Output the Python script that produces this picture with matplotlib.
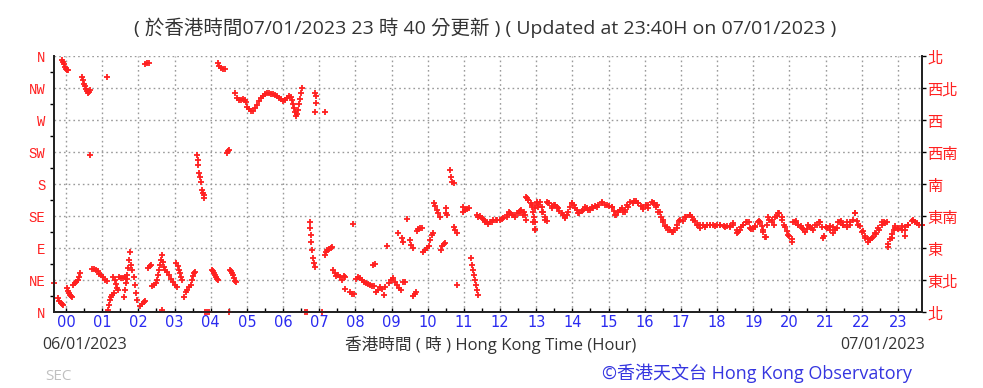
import matplotlib
matplotlib.use("Agg")
import matplotlib.pyplot as plt
from matplotlib.ticker import MultipleLocator

# ---------------- data (hour of 06/01/2023, wind direction in degrees) -------------
obs_night = [
    (-0.33, 41), (-0.22, 20), (-0.19, 15), (-0.14, 13), (-0.11, 11), (-0.08, 10),
    (-0.11, 354), (-0.08, 351), (-0.06, 349), (-0.03, 345), (0.0, 342), (0.03, 340), (0.06, 340),
    (0.03, 34), (0.06, 30), (0.08, 27), (0.11, 24), (0.14, 22), (0.17, 21),
    (0.19, 38), (0.25, 41), (0.28, 42), (0.33, 45), (0.36, 49), (0.39, 55),
    (0.44, 330), (0.47, 326), (0.5, 321), (0.53, 318), (0.55, 313), (0.58, 311), (0.61, 308),
    (0.64, 309), (0.66, 312), (0.66, 221),
    (0.72, 60), (0.77, 60), (0.83, 59), (0.88, 58),
    (0.91, 53), (0.97, 52), (1.02, 49), (1.08, 45), (1.13, 44), (1.13, 330),
    (1.16, 3), (1.19, 10), (1.22, 17), (1.24, 21), (1.27, 24), (1.33, 27),
    (1.3, 49), (1.35, 45), (1.38, 39), (1.41, 34), (1.44, 31),
    (1.47, 49), (1.52, 48), (1.58, 48), (1.63, 49), (1.69, 46),
    (1.6, 21), (1.63, 31), (1.66, 41), (1.69, 52), (1.71, 62), (1.74, 73), (1.77, 84),
    (1.8, 66), (1.82, 59), (1.88, 49), (1.91, 38), (1.94, 27), (1.96, 17),
    (2.05, 8), (2.1, 11), (2.16, 14), (2.18, 15),
    (2.18, 349), (2.24, 350), (2.29, 350),
    (2.27, 62), (2.32, 65), (2.35, 66), (2.38, 37), (2.43, 38), (2.49, 41),
    (2.52, 45), (2.54, 52), (2.57, 59), (2.6, 66), (2.63, 73), (2.65, 80), (2.65, 3),
    (2.68, 70), (2.71, 63), (2.74, 59), (2.79, 56), (2.85, 52), (2.9, 46), (2.96, 42),
    (3.01, 38), (3.07, 35),
    (3.04, 69), (3.1, 65), (3.12, 59), (3.15, 55), (3.18, 49), (3.21, 45),
    (3.26, 21), (3.32, 28), (3.35, 31), (3.4, 35), (3.46, 38), (3.48, 45), (3.51, 51),
    (3.54, 55), (3.57, 56),
    (3.62, 221), (3.65, 214), (3.65, 207), (3.68, 195), (3.7, 190), (3.73, 183),
    (3.76, 172), (3.79, 167), (3.82, 165), (3.82, 160),
    (3.84, 0), (3.9, 0), (3.95, 0),
    (4.04, 59), (4.06, 58), (4.09, 55), (4.12, 52), (4.15, 49), (4.17, 46), (4.2, 45),
    (4.2, 350), (4.23, 346), (4.29, 343), (4.34, 342), (4.4, 342),
    (4.45, 224), (4.48, 226), (4.5, 228), (4.51, 0),
    (4.53, 59), (4.56, 58), (4.59, 55), (4.62, 52), (4.64, 48), (4.67, 44), (4.7, 42),
]

obs_morning = [
    (4.67, 308), (4.73, 301), (4.78, 298), (4.84, 298), (4.89, 299), (4.95, 298), (4.98, 295),
    (5.0, 288), (5.06, 285), (5.11, 283), (5.17, 283), (5.23, 287), (5.28, 291), (5.34, 297),
    (5.39, 301), (5.45, 304), (5.5, 307), (5.56, 308), (5.61, 308), (5.67, 307), (5.72, 307),
    (5.78, 305), (5.84, 304), (5.89, 301), (5.95, 300), (6.0, 297), (6.05, 298), (6.11, 301),
    (6.17, 304), (6.22, 302), (6.25, 298), (6.28, 292), (6.3, 287), (6.33, 281), (6.36, 276),
    (6.39, 278), (6.41, 284), (6.44, 292), (6.47, 300), (6.5, 308), (6.53, 315),
    (6.88, 308), (6.91, 304), (6.91, 294), (6.88, 281), (7.16, 281),
    (6.61, 0), (6.66, 0),
    (6.75, 127), (6.75, 118), (6.77, 108), (6.77, 98), (6.8, 87), (6.83, 76), (6.86, 69), (6.88, 63),
    (7.08, 0),
    (7.16, 80), (7.19, 84), (7.22, 87), (7.27, 89), (7.33, 90), (7.35, 91),
    (7.38, 59), (7.44, 55), (7.47, 51), (7.52, 52), (7.58, 49), (7.63, 45), (7.69, 51), (7.71, 49),
    (7.71, 32), (7.93, 124), (7.85, 28), (7.91, 25), (7.96, 25),
    (8.02, 46), (8.07, 49), (8.13, 48), (8.18, 45), (8.24, 42), (8.29, 41), (8.35, 39), (8.4, 38),
    (8.46, 37), (8.52, 37), (8.49, 66), (8.54, 67),
    (8.57, 28), (8.63, 31), (8.68, 35), (8.74, 32), (8.79, 24), (8.82, 35), (8.87, 93),
    (8.93, 41), (8.99, 45), (9.04, 48), (9.1, 42), (9.15, 38),
    (9.21, 34), (9.26, 31), (9.32, 42), (9.37, 42),
    (9.18, 111), (9.29, 104), (9.32, 98), (9.43, 131),
    (9.51, 101), (9.54, 94), (9.59, 90), (9.59, 22), (9.65, 25), (9.68, 28),
    (9.7, 114), (9.73, 117), (9.79, 118), (9.84, 118),
    (9.87, 84), (9.93, 87), (9.98, 90), (10.04, 93),
    (10.06, 101), (10.12, 108), (10.15, 111),
    (10.17, 153), (10.2, 149), (10.26, 143), (10.29, 139), (10.34, 134),
    (10.37, 87), (10.4, 93), (10.45, 96), (10.48, 97),
    (10.51, 146), (10.51, 139), (10.53, 136),
    (10.62, 200), (10.64, 190), (10.67, 183), (10.73, 181),
    (10.73, 120), (10.75, 115), (10.81, 111), (10.81, 38),
    (10.98, 148), (10.98, 141), (11.03, 143), (11.09, 145), (11.14, 146),
    (11.2, 76), (11.22, 66), (11.25, 59), (11.28, 52), (11.31, 45), (11.33, 38), (11.36, 31), (11.39, 24),
]

obs_afternoon = [
    (11.39, 134), (11.5, 132), (11.58, 127), (11.67, 124), (11.78, 127), (11.92, 129),
    (12.06, 131), (12.19, 134), (12.28, 139), (12.36, 136), (12.47, 139), (12.55, 142),
    (12.64, 136), (12.72, 129), (12.75, 160), (12.77, 157), (12.88, 150), (12.97, 146),
    (12.91, 127), (12.97, 115), (13.02, 153), (13.05, 148), (13.16, 141), (13.24, 129),
    (13.33, 153), (13.44, 146), (13.52, 150), (13.6, 146), (13.71, 139), (13.8, 132),
    (13.88, 141), (13.99, 153), (14.07, 146), (14.16, 139), (14.29, 143), (14.41, 146),
    (14.49, 143), (14.57, 146), (14.68, 148), (14.82, 153), (14.96, 150), (15.1, 148),
    (15.18, 136), (15.26, 141), (15.37, 146), (15.46, 141), (15.54, 148), (15.68, 153),
    (15.82, 153), (15.95, 148), (16.09, 146), (16.23, 153), (16.34, 150), (16.42, 141),
    (16.51, 129), (16.62, 120), (16.7, 115), (16.78, 112), (16.89, 118),
    (16.98, 129), (17.11, 134), (17.25, 136), (17.34, 129), (17.45, 122), (17.53, 118),
    (17.67, 120), (17.81, 122), (17.94, 121), (18.08, 122), (18.22, 120), (18.36, 121),
    (18.44, 125), (18.55, 111), (18.64, 115), (18.72, 122), (18.83, 127), (18.91, 118),
    (19.05, 120), (19.19, 127), (19.27, 115), (19.36, 105), (19.41, 134), (19.52, 129),
    (19.6, 134), (19.69, 139), (19.8, 129), (19.88, 120), (19.96, 108), (20.07, 98),
    (20.16, 127), (20.24, 122), (20.35, 118), (20.43, 112), (20.52, 122), (20.63, 118),
    (20.71, 122), (20.85, 127), (20.93, 104), (21.04, 118), (21.12, 115), (21.21, 111),
    (21.32, 118), (21.4, 127), (21.48, 122), (21.59, 127), (21.68, 122), (21.82, 139),
    (21.9, 122), (22.01, 112), (22.09, 104), (22.17, 98), (22.29, 104), (22.37, 111),
    (22.45, 118), (22.56, 127), (22.65, 125), (22.73, 91), (22.84, 104), (22.92, 118),
    (23.0, 118), (23.12, 115), (23.2, 120), (23.28, 122), (23.42, 129), (23.53, 125),
    (23.67, 122),
]

# second, finer reading of the steady south-easterly afternoon trace
obs_afternoon_fine = [
    (11.37, 136), (11.45, 135), (11.52, 131), (11.59, 128), (11.65, 126), (11.72, 127),
    (11.8, 129), (11.89, 130), (12.0, 130), (12.09, 132), (12.18, 137), (12.26, 140),
    (12.33, 136), (12.41, 134), (12.51, 139), (12.57, 143), (12.65, 141), (12.69, 136),
    (12.72, 162), (12.78, 158), (12.85, 153), (12.88, 147), (12.92, 140), (12.94, 133),
    (12.96, 126), (12.98, 117), (13.01, 154), (13.06, 151), (13.11, 154), (13.15, 147),
    (13.2, 140), (13.24, 133), (13.31, 128), (13.29, 155), (13.36, 153), (13.43, 149),
    (13.49, 151), (13.57, 147), (13.64, 142), (13.73, 137), (13.8, 133), (13.86, 136),
    (13.94, 147), (13.98, 153), (14.05, 151), (14.12, 144), (14.19, 139), (14.26, 142),
    (14.35, 147), (14.44, 144), (14.53, 147), (14.63, 149), (14.72, 151), (14.81, 154),
    (14.9, 151), (15.0, 149), (15.09, 147), (15.15, 142), (15.21, 136), (15.27, 140),
    (15.32, 144), (15.39, 140), (15.46, 144), (15.52, 151), (15.59, 154), (15.69, 156),
    (15.76, 156), (15.82, 153), (15.89, 149), (15.96, 145), (16.04, 150), (16.1, 151),
    (16.19, 154), (16.26, 153), (16.31, 147), (16.38, 140), (16.44, 133), (16.5, 126),
    (16.56, 121), (16.65, 116), (16.75, 112), (16.81, 115), (16.88, 123), (16.96, 128),
    (17.05, 128), (17.14, 133), (17.24, 136), (17.3, 133), (17.39, 128), (17.46, 122),
    (17.53, 123), (17.62, 123), (17.71, 123), (17.81, 123), (17.9, 122), (17.99, 122),
    (18.08, 123), (18.18, 121), (18.27, 121), (18.36, 120), (18.45, 123), (18.54, 116),
    (18.59, 112), (18.65, 119), (18.73, 123), (18.8, 126), (18.87, 126), (18.93, 117),
    (18.99, 117), (19.05, 121), (19.12, 126), (19.17, 128), (19.24, 121), (19.28, 112),
    (19.33, 105), (19.37, 123), (19.45, 129), (19.51, 127), (19.58, 123), (19.65, 135),
    (19.72, 139), (19.79, 133), (19.85, 123), (19.93, 114), (20.0, 107), (20.06, 102),
    (20.11, 126), (20.18, 128), (20.25, 123), (20.31, 121), (20.39, 117), (20.48, 117),
    (20.57, 120), (20.66, 116), (20.76, 123), (20.83, 126), (20.89, 120), (20.96, 107),
    (21.01, 119), (21.11, 121), (21.2, 120), (21.26, 116), (21.35, 126), (21.42, 128),
    (21.49, 122), (21.59, 119), (21.68, 126), (21.77, 130), (21.82, 139), (21.88, 128),
    (21.95, 121), (22.03, 114), (22.09, 107), (22.16, 102), (22.23, 101), (22.32, 105),
    (22.4, 109), (22.49, 116), (22.55, 123), (22.62, 126), (22.69, 126), (22.74, 95),
    (22.78, 102), (22.83, 109), (22.88, 116), (22.92, 121), (23.01, 117), (23.11, 121),
    (23.2, 107), (23.2, 116), (23.29, 123), (23.38, 128), (23.47, 127), (23.57, 122),
    (23.66, 122),
]

compass_en = ["N", "NE", "E", "SE", "S", "SW", "W", "NW", "N"]
compass_zh = ["北", "東北", "東", "東南", "南", "西南", "西", "西北", "北"]
compass_deg = [0, 45, 90, 135, 180, 225, 270, 315, 360]
hour_ticks = list(range(24))
hour_labels = [f"{h:02d}" for h in hour_ticks]

title_text = "( 於香港時間07/01/2023 23 時 40 分更新 ) ( Updated at 23:40H on 07/01/2023 )"
xlabel_text = "香港時間 ( 時 ) Hong Kong Time (Hour)"
start_date = "06/01/2023"
end_date = "07/01/2023"
credit_text = "©香港天文台 Hong Kong Observatory"

# ---------------- drawing -------------
TXT = ["Open Sans", "Noto Sans CJK TC", "DejaVu Sans"]
CJK = ["Noto Sans CJK TC", "DejaVu Sans"]
RED = "#ff2020"
BLUE = "#2a2af0"

fig = plt.figure(figsize=(9.83, 3.88), dpi=100)
ax = fig.add_axes([54 / 983, 1 - 312 / 388, (922 - 54) / 983, (312 - 56) / 388])

for obs in (obs_night, obs_morning, obs_afternoon, obs_afternoon_fine):
    xs = [p[0] for p in obs]
    ys = [p[1] for p in obs]
    ax.plot(xs, ys, linestyle="none", marker="+", color=RED, markersize=4.3,
            markeredgewidth=1.3, clip_on=False, zorder=3)

ax.set_xlim(-1 / 3, 23 + 2 / 3)
ax.set_ylim(0, 360)

ax.set_xticks(hour_ticks)
ax.set_xticklabels(hour_labels, color=BLUE, fontsize=10.5, family="DejaVu Sans")
ax.xaxis.set_minor_locator(MultipleLocator(0.5))
ax.tick_params(axis="x", which="both", direction="in", length=3, width=1, pad=2)

ax.set_yticks(compass_deg)
ax.set_yticklabels(compass_en, color=RED, fontsize=10, family="Liberation Mono")
ax.yaxis.set_minor_locator(MultipleLocator(22.5))
ax.tick_params(axis="y", which="major", direction="in", length=0, pad=6)
ax.tick_params(axis="y", which="minor", direction="out", length=3, width=1)

ax.grid(True, which="major", color="#9a9a9a", linestyle=(0, (1.2, 2.2)), linewidth=1)
ax.spines["top"].set_visible(False)
for s in ("left", "right", "bottom"):
    ax.spines[s].set_linewidth(1.3)
    ax.spines[s].set_color("#222222")

ax2 = ax.twinx()
ax2.set_ylim(0, 360)
ax2.set_yticks(compass_deg)
ax2.set_yticklabels(compass_zh, color=RED, fontsize=11, family=CJK)
ax2.tick_params(axis="y", direction="out", length=3, width=1, pad=1)
ax2.spines["top"].set_visible(False)
for s in ("left", "right", "bottom"):
    ax2.spines[s].set_linewidth(1.3)
    ax2.spines[s].set_color("#222222")

fig.text(485 / 983, 1 - 28 / 388, title_text, ha="center", va="center",
         fontsize=14, color="#333333", family=TXT)
fig.text(491 / 983, 1 - 345 / 388, xlabel_text, ha="center", va="center",
         fontsize=12, color="#333333", family=TXT)
fig.text(42 / 983, 1 - 345 / 388, start_date, ha="left", va="center",
         fontsize=11.5, color="#333333", family=TXT)
fig.text(925 / 983, 1 - 345 / 388, end_date, ha="right", va="center",
         fontsize=11.5, color="#333333", family=TXT)
fig.text(45 / 983, 1 - 376 / 388, "SEC", ha="left", va="center",
         fontsize=11, color="#c0c0c0", family=TXT)
fig.text(912 / 983, 1 - 373 / 388, credit_text, ha="right", va="center",
         fontsize=13, color="#3535e0", family=TXT)

fig.savefig("out.png", dpi=100)
